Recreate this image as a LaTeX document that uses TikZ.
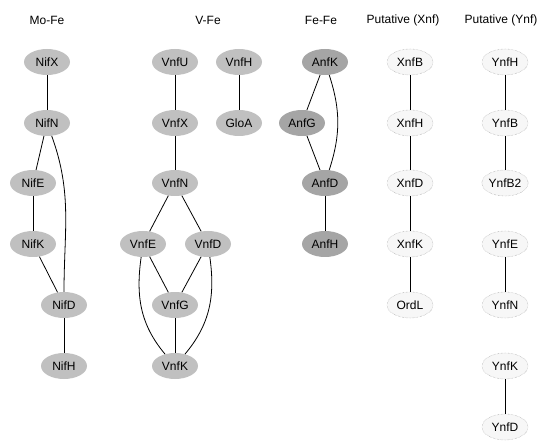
\documentclass[tikz,border=0pt]{standalone}
\usepackage{fontspec}
\setmainfont{Liberation Sans}
\usepackage{tikz}
\usetikzlibrary{shapes.geometric, positioning}
\definecolor{Gris}{RGB}{192, 192, 192}
\definecolor{GrisOscuro}{RGB}{165, 165, 165}
\definecolor{Punteado}{RGB}{140, 140, 140}

\begin{document}
\begin{tikzpicture}[x=1pt, y=1pt,
        titulo/.style={font=\fontsize{12}{14}\selectfont},
        gen/.style={ellipse, fill=Gris, draw=none, minimum width=46pt, minimum height=26pt, inner sep=0pt, font=\fontsize{12}{14}\selectfont},
        gen_anf/.style={gen, fill=GrisOscuro},
        gen_put/.style={gen, fill=gray!6, draw=Punteado, densely dotted},
        enlace/.style={draw=black, line width=0.8pt}
    ]
        % Marco de la figura (555 x 440)
        \useasboundingbox (0,0) rectangle (555,440);

        % Titulos de las columnas
        \node[titulo] (t_mo) at (47, 420) {Mo-Fe};
        \node[titulo] (t_v) at (208, 420) {V-Fe};
        \node[titulo] (t_fe) at (321, 420) {Fe-Fe};
        \node[titulo] (t_x) at (403, 420) {Putative (Xnf)};
        \node[titulo] (t_y) at (501, 420) {Putative (Ynf)};

        % Nitrogenasa Mo-Fe
        \node[gen] (NifX) at (47, 378) {NifX};
        \node[gen] (NifN) at (47, 317) {NifN};
        \node[gen] (NifE) at (33, 257) {NifE};
        \node[gen] (NifK) at (33, 196) {NifK};
        \node[gen] (NifD) at (64, 135) {NifD};
        \node[gen] (NifH) at (64, 74) {NifH};

        \draw[enlace] (NifX) -- (NifN);
        \draw[enlace] (NifN) -- (NifE);
        \draw[enlace] (NifE) -- (NifK);
        \draw[enlace] (NifK) -- (NifD);
        \draw[enlace] (NifN) to[out=-70, in=90] (NifD);
        \draw[enlace] (NifD) -- (NifH);

        % Nitrogenasa V-Fe
        \node[gen] (VnfU) at (175, 378) {VnfU};
        \node[gen] (VnfH) at (239, 378) {VnfH};
        \node[gen] (VnfX) at (175, 317) {VnfX};
        \node[gen] (GloA) at (239, 317) {GloA};
        \node[gen] (VnfN) at (175, 257) {VnfN};
        \node[gen] (VnfE) at (143, 196) {VnfE};
        \node[gen] (VnfD) at (208, 196) {VnfD};
        \node[gen] (VnfG) at (175, 135) {VnfG};
        \node[gen] (VnfK) at (175, 74) {VnfK};

        \draw[enlace] (VnfU) -- (VnfX);
        \draw[enlace] (VnfH) -- (GloA);
        \draw[enlace] (VnfX) -- (VnfN);
        \draw[enlace] (VnfN) -- (VnfE);
        \draw[enlace] (VnfN) -- (VnfD);
        \draw[enlace] (VnfE) -- (VnfG);
        \draw[enlace] (VnfD) -- (VnfG);
        \draw[enlace] (VnfG) -- (VnfK);
        % Arcos exteriores hacia VnfK
        \draw[enlace] (VnfE) to[out=-98, in=130] (VnfK);
        \draw[enlace] (VnfD) to[out=-82, in=50] (VnfK);

        % Nitrogenasa Fe-Fe
        \node[gen_anf] (AnfK) at (325, 378) {AnfK};
        \node[gen_anf] (AnfG) at (302, 317) {AnfG};
        \node[gen_anf] (AnfD) at (325, 257) {AnfD};
        \node[gen_anf] (AnfH) at (325, 196) {AnfH};

        \draw[enlace] (AnfK) -- (AnfG);
        \draw[enlace] (AnfG) -- (AnfD);
        \draw[enlace] (AnfK) to[out=-72, in=72] (AnfD);
        \draw[enlace] (AnfD) -- (AnfH);

        % Putativa (Xnf)
        \node[gen_put] (XnfB) at (410, 378) {XnfB};
        \node[gen_put] (XnfH) at (410, 317) {XnfH};
        \node[gen_put] (XnfD) at (410, 257) {XnfD};
        \node[gen_put] (XnfK) at (410, 196) {XnfK};
        \node[gen_put] (OrdL) at (410, 135) {OrdL};

        \draw[enlace] (XnfB) -- (XnfH);
        \draw[enlace] (XnfH) -- (XnfD);
        \draw[enlace] (XnfD) -- (XnfK);
        \draw[enlace] (XnfK) -- (OrdL);

        % Putativa (Ynf)
        \node[gen_put] (YnfH) at (505, 378) {YnfH};
        \node[gen_put] (YnfB) at (505, 317) {YnfB};
        \node[gen_put] (YnfB2) at (505, 257) {YnfB2};
        \node[gen_put] (YnfE) at (505, 196) {YnfE};
        \node[gen_put] (YnfN) at (505, 135) {YnfN};
        \node[gen_put] (YnfK) at (505, 74) {YnfK};
        \node[gen_put] (YnfD) at (505, 13) {YnfD};

        \draw[enlace] (YnfH) -- (YnfB);
        \draw[enlace] (YnfB) -- (YnfB2);
        \draw[enlace] (YnfE) -- (YnfN);
        \draw[enlace] (YnfK) -- (YnfD);
    \end{tikzpicture}
\end{document}
